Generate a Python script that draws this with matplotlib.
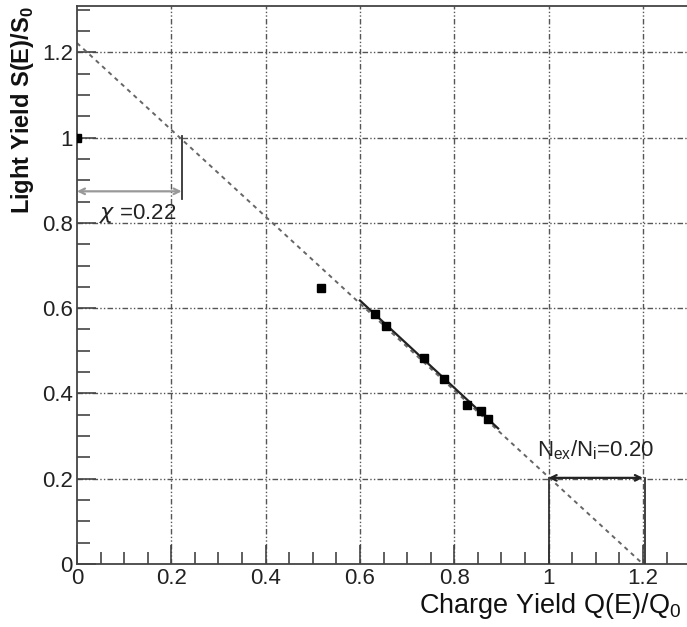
import matplotlib
matplotlib.use("Agg")
import matplotlib.pyplot as plt
from matplotlib.ticker import MultipleLocator

plt.rcParams['font.family'] = ['Liberation Sans', 'DejaVu Sans']

# measured points (charge yield, light yield)
charge = [0.0, 0.517, 0.631, 0.655, 0.736, 0.779, 0.828, 0.856, 0.872]
light = [1.0, 0.647, 0.587, 0.559, 0.484, 0.433, 0.373, 0.358, 0.341]

# anticorrelation line extrapolated, and fitted segment
line_x = [0.0, 1.2]
line_y = [1.222, 0.0]
fit_x = [0.600, 0.893]
fit_y = [0.618, 0.318]

chi = 0.22
chi_arrow_y = 0.874
nex_ratio = 0.20
nex_y = 0.202

fig = plt.figure(figsize=(6.87, 6.27), dpi=100)
ax = fig.add_axes([0.112, 0.1005, 0.8925, 0.8895])
ax.set_xlim(0, 1.3)
ax.set_ylim(0, 1.308)

grid_kw = dict(color='#555555', lw=1.0, dashes=(4, 1.6, 1, 1.6, 1, 1.6))
for gx in [0.2, 0.4, 0.6, 0.8, 1.0, 1.2]:
    ax.axvline(gx, zorder=1, **grid_kw)
for gy in [0.2, 0.4, 0.6, 0.8, 1.0, 1.2]:
    ax.axhline(gy, zorder=1, **grid_kw)

ax.plot(line_x, line_y, color='#666666', lw=1.4, dashes=(2.2, 2.2), zorder=2)
ax.plot(fit_x, fit_y, color='#222222', lw=1.6, zorder=3)
ax.plot(charge, light, 's', color='black', ms=5.5, zorder=4)

# chi annotation
ax.plot([chi + 0.002, chi + 0.002], [1.003, 0.855], color='#333333', lw=1.3, zorder=3)
ax.annotate('', xy=(0.0, chi_arrow_y), xytext=(chi + 0.002, chi_arrow_y),
            arrowprops=dict(arrowstyle='<->', color='#999999', lw=1.6,
                            shrinkA=0, shrinkB=0, mutation_scale=10), zorder=3)
ax.text(0.128, 0.823, r'$\chi$ =0.22', fontsize=16, ha='center', va='center',
        color='#222222')

# N_ex/N_i annotation
ax.plot([1.0, 1.0], [0.0, nex_y], color='#333333', lw=1.3, zorder=3)
ax.plot([1.205, 1.205], [0.0, nex_y], color='#333333', lw=1.3, zorder=3)
ax.annotate('', xy=(1.0, nex_y), xytext=(1.0 + nex_ratio, nex_y),
            arrowprops=dict(arrowstyle='<->', color='#222222', lw=1.6,
                            shrinkA=0, shrinkB=0, mutation_scale=10), zorder=3)
ax.text(1.1, 0.268, r'N$_{\mathregular{ex}}$/N$_{\mathregular{i}}$=0.20', fontsize=16,
        ha='center', va='center', color='#222222')

ax.spines['right'].set_visible(False)
for s in ['left', 'bottom', 'top']:
    ax.spines[s].set_color('#444444')
    ax.spines[s].set_linewidth(1.3)

ax.xaxis.set_minor_locator(MultipleLocator(0.05))
ax.yaxis.set_minor_locator(MultipleLocator(0.05))
ax.set_xticks([0, 0.2, 0.4, 0.6, 0.8, 1.0, 1.2])
ax.set_xticklabels(['0', '0.2', '0.4', '0.6', '0.8', '1', '1.2'])
ax.set_yticks([0, 0.2, 0.4, 0.6, 0.8, 1.0, 1.2])
ax.set_yticklabels(['0', '0.2', '0.4', '0.6', '0.8', '1', '1.2'])
ax.tick_params(which='both', direction='in', top=False, right=False,
               color='#444444', width=1.2, labelsize=16, labelcolor='#222222')
ax.tick_params(which='major', length=14)
ax.tick_params(axis='x', which='major', pad=3)
ax.tick_params(axis='y', which='major', pad=3)
ax.tick_params(which='minor', length=9)

ax.set_xlabel(r'Charge Yield Q(E)/Q$_{\mathregular{0}}$', fontsize=19.5, ha='right',
              x=0.985, labelpad=1, color='#111111')
ax.set_ylabel(r'Light Yield S(E)/S$_{\mathregular{0}}$', fontsize=17, ha='right',
              y=1.0, labelpad=4, color='#111111', fontweight='bold')

fig.savefig('out.png', dpi=100)
